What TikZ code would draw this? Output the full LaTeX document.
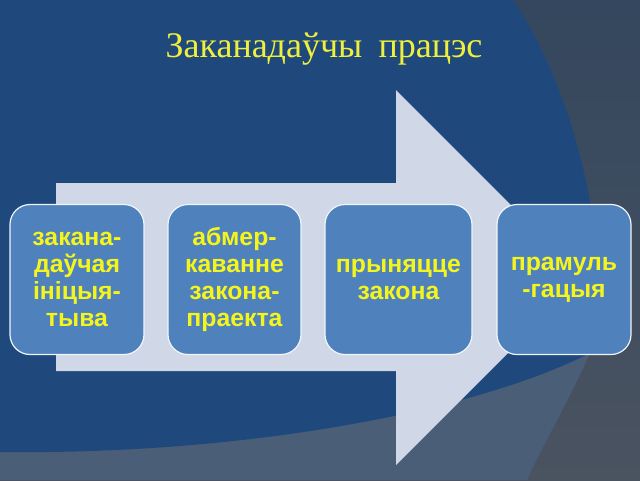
\documentclass[tikz,border=0pt]{standalone}
\usepackage{fontspec}
\setmainfont{Liberation Serif}
\newfontfamily\boxfont{Liberation Sans}
\definecolor{bgblue}{HTML}{1F497D}
\definecolor{bgdarktop}{HTML}{34475E}
\definecolor{bgdarkbot}{HTML}{4A5360}
\definecolor{bgslate}{HTML}{4A5E78}
\definecolor{arrowfill}{HTML}{D0D8E8}
\definecolor{boxfill}{HTML}{4F81BD}
\definecolor{txtyellow}{RGB}{245,245,30}
\definecolor{titleyellow}{RGB}{240,240,60}
\tikzset{
  stagebox/.style={draw=white!92!boxfill, line width=0.9pt, fill=boxfill,
    rounded corners=15pt, minimum height=112.5pt, align=center,
    text=txtyellow, font=\boxfont\bfseries\fontsize{18.6}{20.2}\selectfont},
  titletext/.style={text=titleyellow, font=\fontsize{27}{30}\selectfont}
}
\begin{document}
\begin{tikzpicture}[x=0.75pt,y=-0.75pt]
\useasboundingbox (0,0) rectangle (640,480);
% background
\shade[top color=bgdarktop, bottom color=bgdarkbot] (0,0) rectangle (640,480);
\fill[bgslate] (0,300) -- (592,300) -- (592,348)
  .. controls (570,400) and (545,440) .. (527,480) -- (0,480) -- cycle;
\fill[bgblue] (0,0) -- (513,0) .. controls (555,60) and (595,170) .. (600,290)
  -- (592,352) .. controls (480,410) and (250,455) .. (0,452) -- cycle;
% arrow
\fill[arrowfill] (56,183) -- (396,183) -- (396,90) -- (583.5,277.5)
  -- (396,465) -- (396,371) -- (56,371) -- cycle;
% title
\node[titletext, anchor=base] (title) at (324,57) {Заканадаўчы\hspace{0.45em}працэс};
% boxes
\node[stagebox, minimum width=100.5pt] (b1) at (77,279.5) {закана-\\даўчая\\ініцыя-\\тыва};
\node[stagebox, minimum width=99.75pt] (b2) at (234.5,279.5) {абмер-\\каванне\\закона-\\праекта};
\node[stagebox, minimum width=110.25pt] (b3) at (398.5,279.5) {прыняцце\\закона};
\node[stagebox, minimum width=100.5pt] (b4) at (564,279.5) {прамуль\\-гацыя};
\end{tikzpicture}
\end{document}
